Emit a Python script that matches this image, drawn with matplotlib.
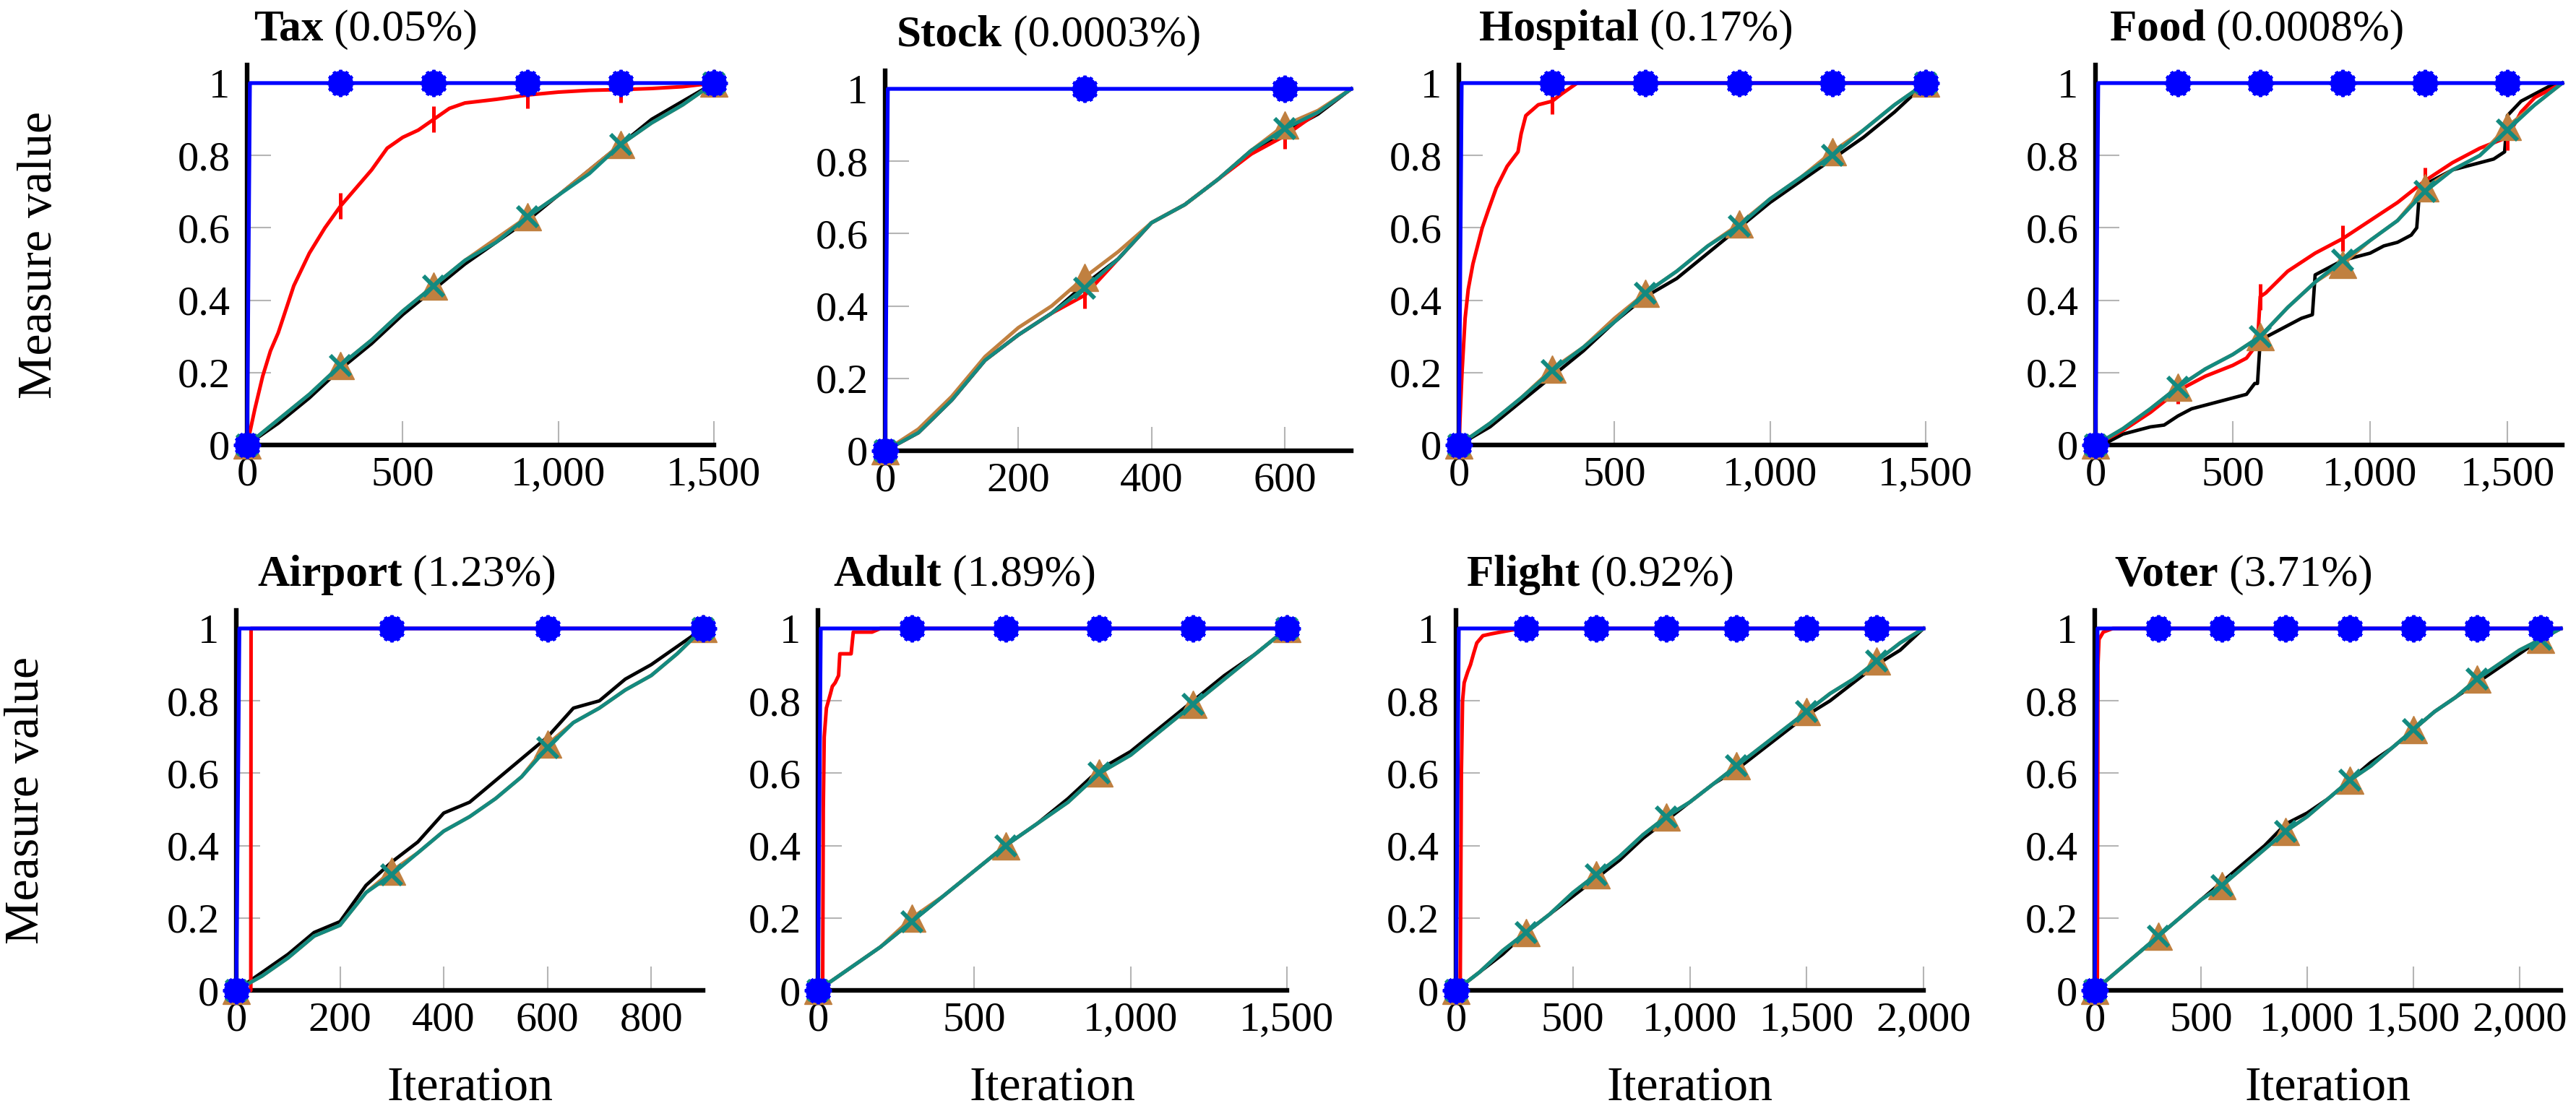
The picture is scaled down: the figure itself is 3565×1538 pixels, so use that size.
import numpy as np
import matplotlib
matplotlib.use("Agg")
import matplotlib.pyplot as plt
from matplotlib.ticker import MultipleLocator, FuncFormatter

plt.rcParams['font.family'] = ['Liberation Serif', 'DejaVu Serif']

W, H = 3565, 1538

datasets = ["Tax", "Stock", "Hospital", "Food", "Airport", "Adult", "Flight", "Voter"]
percents = ["0.05%", "0.0003%", "0.17%", "0.0008%", "1.23%", "1.89%", "0.92%", "3.71%"]
x_steps = [500, 200, 500, 500, 200, 500, 500, 500]

# ---- Tax ----
tax_x = [0, 100, 200, 300, 400, 500, 600, 700, 800, 900, 1000, 1100, 1200, 1300, 1400, 1500]
tax_black = [0, 0.06, 0.13, 0.21, 0.28, 0.36, 0.43, 0.50, 0.56, 0.62, 0.69, 0.76, 0.83, 0.90, 0.95, 1.0]
tax_brown = [0, 0.07, 0.14, 0.22, 0.29, 0.37, 0.44, 0.51, 0.57, 0.63, 0.69, 0.76, 0.83, 0.89, 0.94, 1.0]
tax_teal = [0, 0.07, 0.14, 0.22, 0.29, 0.37, 0.44, 0.51, 0.56, 0.63, 0.69, 0.75, 0.83, 0.89, 0.94, 1.0]
tax_red_x = [0, 25, 50, 75, 100, 150, 200, 250, 300, 350, 400, 450, 500, 550, 600, 650, 700, 800, 900,
             1000, 1100, 1200, 1300, 1400, 1500]
tax_red = [0, 0.1, 0.19, 0.26, 0.31, 0.44, 0.53, 0.6, 0.66, 0.71, 0.76, 0.82, 0.85, 0.87, 0.9, 0.93, 0.945,
           0.955, 0.967, 0.975, 0.98, 0.982, 0.985, 0.99, 1.0]
tax_blue_x = [0, 9, 300, 600, 900, 1200, 1500]
tax_blue = [0, 1, 1, 1, 1, 1, 1]

# ---- Stock ----
stock_x = [0, 50, 100, 150, 200, 250, 300, 350, 400, 450, 500, 550, 600, 650, 700]
stock_black = [0, 0.05, 0.14, 0.25, 0.32, 0.38, 0.46, 0.53, 0.63, 0.68, 0.75, 0.83, 0.88, 0.93, 1.0]
stock_brown = [0, 0.06, 0.15, 0.26, 0.34, 0.40, 0.48, 0.55, 0.63, 0.68, 0.75, 0.83, 0.90, 0.94, 1.0]
stock_teal = [0, 0.05, 0.14, 0.25, 0.32, 0.38, 0.45, 0.53, 0.63, 0.68, 0.75, 0.83, 0.89, 0.935, 1.0]
stock_red_x = [0, 50, 100, 150, 200, 250, 300, 350, 400, 450, 500, 550, 600, 650, 700]
stock_red = [0, 0.05, 0.14, 0.25, 0.32, 0.38, 0.43, 0.53, 0.63, 0.68, 0.75, 0.82, 0.87, 0.935, 1.0]
stock_blue_x = [0, 4, 300, 600, 700]
stock_blue = [0, 1, 1, 1, 1]

# ---- Hospital ----
hosp_x = [0, 100, 200, 300, 400, 500, 600, 700, 800, 900, 1000, 1100, 1200, 1300, 1400, 1500]
hosp_black = [0, 0.05, 0.12, 0.19, 0.26, 0.34, 0.41, 0.46, 0.53, 0.60, 0.67, 0.73, 0.79, 0.85, 0.92, 1.0]
hosp_brown = [0, 0.06, 0.13, 0.21, 0.27, 0.35, 0.42, 0.48, 0.55, 0.61, 0.68, 0.74, 0.81, 0.87, 0.94, 1.0]
hosp_teal = [0, 0.06, 0.13, 0.205, 0.27, 0.34, 0.42, 0.48, 0.55, 0.605, 0.68, 0.74, 0.80, 0.87, 0.94, 1.0]
hosp_red_x = [0, 10, 20, 30, 45, 60, 75, 95, 120, 155, 190, 200, 215, 255, 300, 330, 380, 600, 900, 1200, 1500]
hosp_red = [0, 0.2, 0.35, 0.43, 0.5, 0.55, 0.6, 0.65, 0.71, 0.77, 0.81, 0.86, 0.91, 0.94, 0.95, 0.97, 1.0,
            1.0, 1.0, 1.0, 1.0]
hosp_blue_x = [0, 9, 300, 600, 900, 1200, 1500]
hosp_blue = [0, 1, 1, 1, 1, 1, 1]

# ---- Food ----
food_x = [0, 100, 200, 300, 400, 500, 600, 700, 800, 900, 1000, 1100, 1200, 1300, 1400, 1500, 1600, 1700]
food_black_x = [0, 50, 100, 150, 200, 250, 300, 350, 400, 450, 500, 550, 580, 590, 600, 650, 700, 750, 790,
                800, 850, 900, 950, 1000, 1050, 1100, 1150, 1170, 1180, 1200, 1250, 1300, 1350, 1400, 1450,
                1490, 1500, 1550, 1600, 1650, 1700]
food_black = [0, 0.01, 0.03, 0.04, 0.05, 0.055, 0.08, 0.10, 0.11, 0.12, 0.13, 0.14, 0.17, 0.17, 0.29, 0.31,
              0.33, 0.35, 0.36, 0.47, 0.49, 0.51, 0.52, 0.53, 0.55, 0.56, 0.58, 0.60, 0.70, 0.72, 0.74, 0.76,
              0.77, 0.78, 0.79, 0.81, 0.91, 0.95, 0.97, 0.99, 1.0]
food_brown = [0, 0.045, 0.10, 0.16, 0.21, 0.25, 0.30, 0.38, 0.45, 0.50, 0.565, 0.62, 0.71, 0.76, 0.80, 0.88,
              0.94, 1.0]
food_teal = [0, 0.045, 0.10, 0.16, 0.21, 0.25, 0.30, 0.38, 0.45, 0.51, 0.565, 0.62, 0.70, 0.76, 0.80, 0.87,
             0.94, 1.0]
food_red_x = [0, 100, 200, 300, 400, 500, 550, 590, 600, 620, 700, 800, 900, 1000, 1100, 1200, 1300, 1400,
              1500, 1550, 1600, 1650, 1700]
food_red = [0, 0.04, 0.09, 0.15, 0.19, 0.22, 0.24, 0.28, 0.41, 0.42, 0.48, 0.53, 0.57, 0.62, 0.67, 0.73,
            0.78, 0.82, 0.85, 0.92, 0.96, 0.98, 1.0]
food_blue_x = [0, 10, 300, 600, 900, 1200, 1500, 1700]
food_blue = [0, 1, 1, 1, 1, 1, 1, 1]

# ---- Airport ----
airport_x = [0, 50, 100, 150, 200, 250, 300, 350, 400, 450, 500, 550, 600, 650, 700, 750, 800, 850, 900]
airport_black = [0, 0.05, 0.10, 0.16, 0.19, 0.29, 0.355, 0.41, 0.49, 0.52, 0.58, 0.64, 0.70, 0.78, 0.80,
                 0.86, 0.90, 0.95, 1.0]
airport_brown = [0, 0.04, 0.09, 0.15, 0.18, 0.27, 0.33, 0.38, 0.44, 0.48, 0.53, 0.59, 0.68, 0.74, 0.78,
                 0.83, 0.87, 0.93, 1.0]
airport_teal = [0, 0.04, 0.09, 0.15, 0.18, 0.27, 0.32, 0.38, 0.44, 0.48, 0.53, 0.59, 0.67, 0.74, 0.78,
                0.83, 0.87, 0.93, 1.0]
airport_red_x = [0, 28, 28.5, 300, 600, 900]
airport_red = [0, 0, 1, 1, 1, 1]
airport_blue_x = [0, 6, 300, 600, 900]
airport_blue = [0, 1, 1, 1, 1]

# ---- Adult ----
adult_x = [0, 100, 200, 300, 400, 500, 600, 700, 800, 900, 1000, 1100, 1200, 1300, 1400, 1500]
adult_black = [0, 0.06, 0.12, 0.19, 0.26, 0.33, 0.40, 0.46, 0.53, 0.61, 0.66, 0.73, 0.80, 0.87, 0.93, 1.0]
adult_brown = [0, 0.06, 0.12, 0.20, 0.26, 0.33, 0.40, 0.46, 0.52, 0.60, 0.65, 0.72, 0.79, 0.86, 0.93, 1.0]
adult_teal = [0, 0.06, 0.12, 0.19, 0.26, 0.33, 0.40, 0.46, 0.52, 0.60, 0.65, 0.72, 0.79, 0.86, 0.93, 1.0]
adult_red_x = [0, 15, 17, 20, 27, 40, 46, 55, 66, 70, 106, 113, 173, 200, 300, 600, 900, 1200, 1500]
adult_red = [0, 0, 0.5, 0.7, 0.78, 0.82, 0.84, 0.85, 0.87, 0.93, 0.93, 0.99, 0.99, 1.0, 1.0, 1.0, 1.0, 1.0, 1.0]
adult_blue_x = [0, 9, 300, 600, 900, 1200, 1500]
adult_blue = [0, 1, 1, 1, 1, 1, 1]

# ---- Flight ----
flight_x = [0, 100, 200, 300, 400, 500, 600, 700, 800, 900, 1000, 1100, 1200, 1300, 1400, 1500, 1600, 1700,
            1800, 1900, 2000]
flight_black = [0, 0.05, 0.10, 0.16, 0.21, 0.26, 0.31, 0.36, 0.42, 0.47, 0.52, 0.57, 0.61, 0.66, 0.71, 0.76,
                0.80, 0.85, 0.90, 0.94, 1.0]
flight_brown = [0, 0.05, 0.11, 0.16, 0.21, 0.27, 0.32, 0.37, 0.43, 0.48, 0.52, 0.57, 0.62, 0.67, 0.72, 0.77,
                0.82, 0.86, 0.91, 0.96, 1.0]
flight_teal = [0, 0.05, 0.11, 0.16, 0.21, 0.27, 0.32, 0.37, 0.43, 0.48, 0.52, 0.57, 0.62, 0.67, 0.72, 0.77,
               0.82, 0.86, 0.91, 0.96, 1.0]
flight_red_x = [0, 18, 23, 28, 35, 50, 62, 75, 89, 115, 150, 190, 275, 300, 600, 900, 1200, 1500, 1800, 2000]
flight_red = [0, 0, 0.6, 0.8, 0.85, 0.88, 0.9, 0.93, 0.96, 0.98, 0.985, 0.99, 1.0, 1.0, 1.0, 1.0, 1.0, 1.0,
              1.0, 1.0]
flight_blue_x = [0, 12, 300, 600, 900, 1200, 1500, 1800, 2000]
flight_blue = [0, 1, 1, 1, 1, 1, 1, 1, 1]

# ---- Voter ----
voter_x = [0, 100, 200, 300, 400, 500, 600, 700, 800, 900, 1000, 1100, 1200, 1300, 1400, 1500, 1600, 1700,
           1800, 1900, 2000, 2100, 2195]
voter_black = [0, 0.05, 0.10, 0.15, 0.20, 0.25, 0.30, 0.35, 0.40, 0.46, 0.49, 0.53, 0.58, 0.63, 0.67, 0.72,
               0.77, 0.81, 0.85, 0.89, 0.93, 0.97, 1.0]
voter_brown = [0, 0.05, 0.10, 0.15, 0.20, 0.25, 0.29, 0.34, 0.39, 0.44, 0.48, 0.53, 0.58, 0.62, 0.67, 0.72,
               0.77, 0.81, 0.86, 0.90, 0.94, 0.97, 1.0]
voter_teal = [0, 0.05, 0.10, 0.15, 0.20, 0.25, 0.29, 0.34, 0.39, 0.44, 0.48, 0.53, 0.58, 0.62, 0.67, 0.72,
              0.77, 0.81, 0.86, 0.90, 0.94, 0.97, 1.0]
voter_red_x = [0, 12, 15, 20, 40, 85, 300, 600, 900, 1200, 1500, 1800, 2100, 2195]
voter_red = [0, 0, 0.9, 0.97, 0.99, 1.0, 1, 1, 1, 1, 1, 1, 1, 1]
voter_blue_x = [0, 13, 300, 600, 900, 1200, 1500, 1800, 2100, 2195]
voter_blue = [0, 1, 1, 1, 1, 1, 1, 1, 1, 1]

series = {
    "Tax": dict(black=(tax_x, tax_black), red=(tax_red_x, tax_red), brown=(tax_x, tax_brown),
                teal=(tax_x, tax_teal), blue=(tax_blue_x, tax_blue)),
    "Stock": dict(black=(stock_x, stock_black), red=(stock_red_x, stock_red), brown=(stock_x, stock_brown),
                  teal=(stock_x, stock_teal), blue=(stock_blue_x, stock_blue)),
    "Hospital": dict(black=(hosp_x, hosp_black), red=(hosp_red_x, hosp_red), brown=(hosp_x, hosp_brown),
                     teal=(hosp_x, hosp_teal), blue=(hosp_blue_x, hosp_blue)),
    "Food": dict(black=(food_black_x, food_black), red=(food_red_x, food_red), brown=(food_x, food_brown),
                 teal=(food_x, food_teal), blue=(food_blue_x, food_blue)),
    "Airport": dict(black=(airport_x, airport_black), red=(airport_red_x, airport_red),
                    brown=(airport_x, airport_brown), teal=(airport_x, airport_teal),
                    blue=(airport_blue_x, airport_blue)),
    "Adult": dict(black=(adult_x, adult_black), red=(adult_red_x, adult_red), brown=(adult_x, adult_brown),
                  teal=(adult_x, adult_teal), blue=(adult_blue_x, adult_blue)),
    "Flight": dict(black=(flight_x, flight_black), red=(flight_red_x, flight_red),
                   brown=(flight_x, flight_brown), teal=(flight_x, flight_teal),
                   blue=(flight_blue_x, flight_blue)),
    "Voter": dict(black=(voter_x, voter_black), red=(voter_red_x, voter_red), brown=(voter_x, voter_brown),
                  teal=(voter_x, voter_teal), blue=(voter_blue_x, voter_blue)),
}

# layout in pixels: axis left, axis right, y=0 line, title left
layout = {
    "Tax": (342, 988, 616, 351),
    "Stock": (1225, 1870, 624, 1241),
    "Hospital": (2019, 2665, 616, 2047),
    "Food": (2900, 3546, 616, 2920),
    "Airport": (327, 973, 1371, 356),
    "Adult": (1132, 1781, 1371, 1153),
    "Flight": (2015, 2662, 1371, 2030),
    "Voter": (2899, 3544, 1371, 2926),
}
UNIT = 501  # pixels per 1.0 on y

styles = {
    "black": dict(color="black", lw=3.4, marker=None, zorder=3),
    "red": dict(color="#ff0000", lw=3.6, marker="|", ms=26, mew=3.6, zorder=4),
    "brown": dict(color="#c08040", lw=3.6, marker="^", ms=27, mew=1, zorder=5),
    "teal": dict(color="#138a80", lw=3.6, marker="x", ms=20, mew=4.2, zorder=6),
    "blue": dict(color="#0000ff", lw=3.8, marker="o", ms=24, mew=1, zorder=7),
}


def every300(x):
    x = np.asarray(x, dtype=float)
    return list(np.where(np.isclose(np.mod(x, 300), 0))[0])


fig = plt.figure(figsize=(W / 100, H / 100), dpi=100)

for i, name in enumerate(datasets):
    left, right, y0, tleft = layout[name]
    ax_h = 1.05 * UNIT
    ax = fig.add_axes([left / W, (H - y0) / H, (right - left) / W, ax_h / H])
    data = series[name]
    for key in ["black", "red", "brown", "teal", "blue"]:
        x, y = data[key]
        st = styles[key]
        kw = dict(color=st["color"], lw=st["lw"], zorder=st["zorder"], clip_on=False,
                  solid_joinstyle="round")
        if st["marker"]:
            kw.update(marker=st["marker"], ms=st["ms"], mew=st["mew"], markevery=every300(x))
        ax.plot(x, y, **kw)
        if key == "blue":
            # small spokes around the dot, like the asterisk mark
            idx = every300(x)
            xx = np.asarray(x, dtype=float)[idx]
            yy = np.asarray(y, dtype=float)[idx]
            ax.plot(xx, yy, linestyle="none", marker=(12, 2, 0), ms=27, mew=3,
                    color=st["color"], zorder=8, clip_on=False)

    xmax = max(data["teal"][0])
    ax.set_xlim(0, xmax)
    ax.set_ylim(0, 1.05)
    ax.xaxis.set_major_locator(MultipleLocator(x_steps[i]))
    ax.xaxis.set_major_formatter(FuncFormatter(lambda v, _: f"{int(round(v)):,}"))
    ax.set_yticks([0, 0.2, 0.4, 0.6, 0.8, 1.0])
    ax.yaxis.set_major_formatter(FuncFormatter(lambda v, _: f"{v:g}"))
    for s in ["top", "right"]:
        ax.spines[s].set_visible(False)
    for s in ["left", "bottom"]:
        ax.spines[s].set_linewidth(4.6)
        ax.spines[s].set_color("black")
    ax.tick_params(axis="both", direction="in", length=24, width=1.5, color="#b5b5b5",
                   labelsize=42, labelcolor="black")
    ax.tick_params(axis="x", pad=11)
    ax.tick_params(axis="y", pad=17)
    ax.set_facecolor("none")

    # title: bold name followed by regular percentage
    tb = y0 - ax_h - 34
    t1 = fig.text(tleft / W, 1 - tb / H, name, fontsize=44, fontweight="bold",
                  ha="left", va="baseline")
    ax.annotate(" (" + percents[i] + ")", xy=(1, 0), xycoords=t1, fontsize=44,
                ha="left", va="bottom", annotation_clip=False)

    if i % 4 == 0:
        lx = 55 if i == 0 else 37
        fig.text(lx / W, 1 - (y0 - ax_h / 2) / H, "Measure value", rotation=90,
                 fontsize=49, ha="center", va="center")
    if i >= 4:
        fig.text((left + right) / 2 / W, 1 - (y0 + 153) / H, "Iteration", fontsize=49,
                 ha="center", va="baseline")

fig.savefig("out.png", dpi=100)
